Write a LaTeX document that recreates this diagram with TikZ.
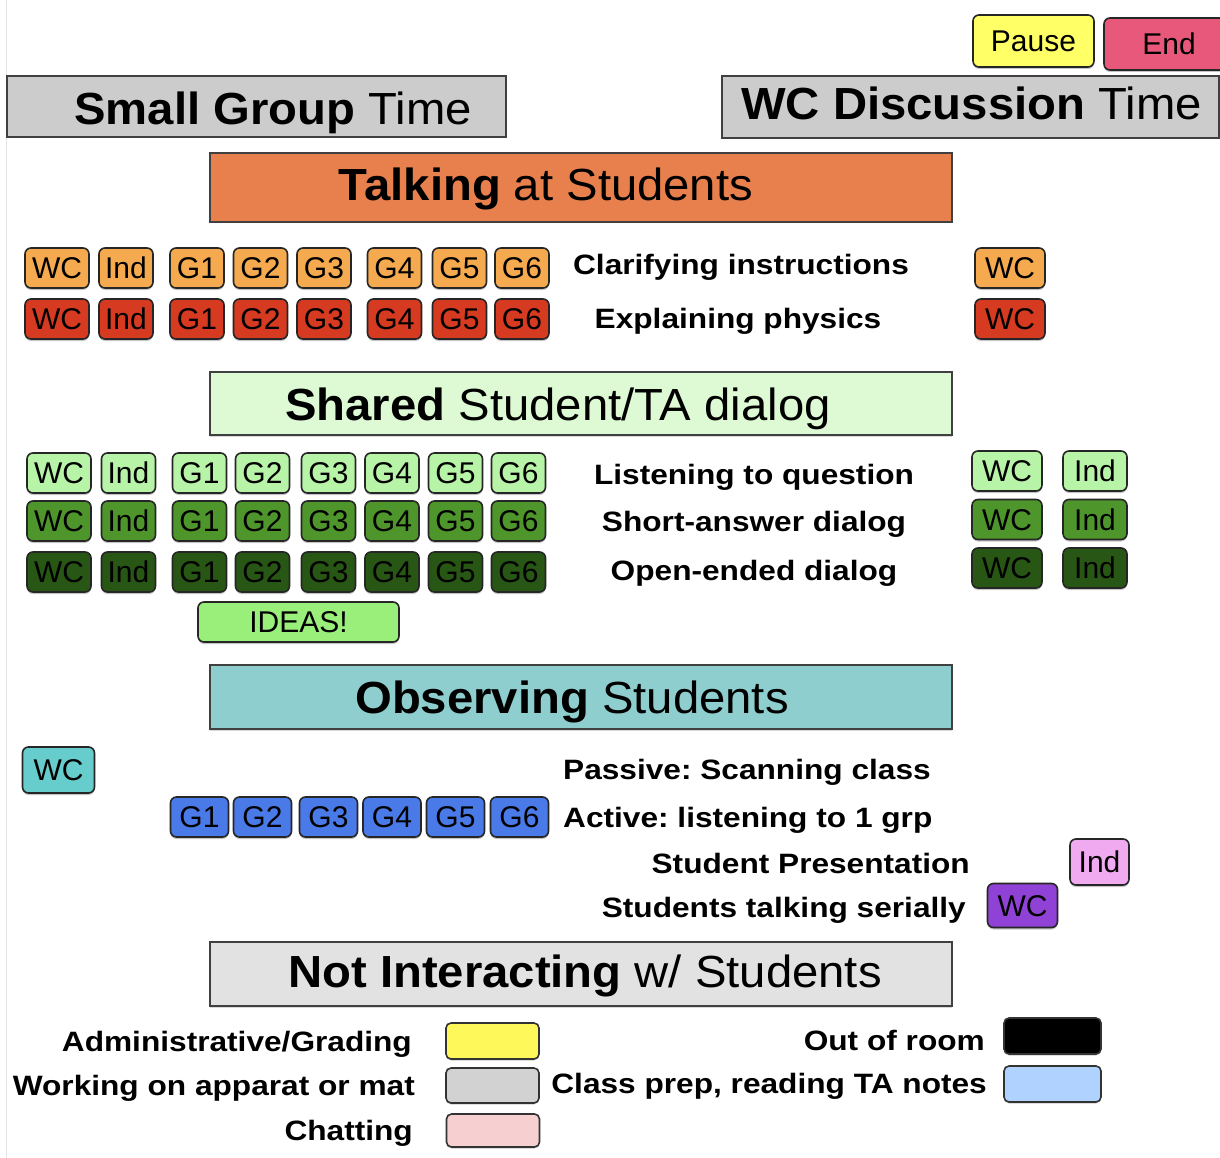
\documentclass[tikz,border=0pt]{standalone}
\usepackage{fontspec}
\setmainfont{Liberation Sans}
\newfontfamily\headfont[FakeStretch=1.05]{Liberation Sans}
\newfontfamily\rowfont[FakeStretch=1.13]{Liberation Sans}
\usetikzlibrary{shadows}
\frenchspacing

\definecolor{pausey}{RGB}{255,255,102}
\definecolor{endpink}{RGB}{232,88,122}
\definecolor{hdrgray}{RGB}{204,204,204}
\definecolor{talkorange}{RGB}{232,128,78}
\definecolor{clarorange}{RGB}{245,170,80}
\definecolor{explred}{RGB}{214,58,32}
\definecolor{sharedbg}{RGB}{221,250,212}
\definecolor{listengreen}{RGB}{184,244,168}
\definecolor{shortgreen}{RGB}{78,150,44}
\definecolor{opengreen}{RGB}{40,86,20}
\definecolor{ideasgreen}{RGB}{154,238,122}
\definecolor{observebg}{RGB}{142,206,206}
\definecolor{passiveteal}{RGB}{102,204,204}
\definecolor{activeblue}{RGB}{74,122,232}
\definecolor{presentpink}{RGB}{240,170,240}
\definecolor{serialpurple}{RGB}{145,66,214}
\definecolor{notbg}{RGB}{226,226,226}
\definecolor{adminyellow}{RGB}{255,248,90}
\definecolor{apparatgray}{RGB}{210,210,210}
\definecolor{chatpink}{RGB}{246,208,208}
\definecolor{prepblue}{RGB}{176,210,255}

\tikzset{
  band/.style={draw=black!75, line width=2pt, minimum width=742pt, inner sep=0pt,
    drop shadow={shadow xshift=0pt, shadow yshift=-1.5pt, opacity=0.3}},
  bandtext/.style={inner sep=0pt, text height=32pt, text depth=0pt, font=\headfont\fontsize{45}{45}\selectfont},
  tag/.style={draw=black!85, line width=1.6pt, rounded corners=6pt, minimum width=54pt, minimum height=40pt,
    inner sep=0pt, text height=21pt, text depth=0pt, font=\fontsize{30}{30}\selectfont,
    drop shadow={shadow xshift=0pt, shadow yshift=-2pt, opacity=0.45}},
  widetag/.style={tag, minimum width=64pt},
  rowtext/.style={inner sep=0pt, text height=20pt, text depth=0pt, font=\rowfont\bfseries\fontsize{28}{28}\selectfont},
  swatch/.style={draw=black!80, line width=1.6pt, rounded corners=5pt, minimum width=95pt, minimum height=35pt,
    inner sep=0pt, drop shadow={shadow xshift=0pt, shadow yshift=-1.5pt, opacity=0.4}}
}

\begin{document}
\begin{tikzpicture}[x=1pt, y=-1pt]
\useasboundingbox (0,0) rectangle (1220,1158);
\draw[gray!20, line width=1pt] (6,0) -- (6,1158);

% buttons
\node[tag, fill=pausey, minimum width=121pt, minimum height=52pt] (pause) at (1033.5,41) {Pause};
\node[tag, fill=endpink, minimum width=130pt, minimum height=52pt] (stop) at (1169,44) {End};

% time headers
\node[band, fill=hdrgray, minimum width=499pt, minimum height=61pt] (sgbox) at (256.5,106.5) {};
\node[bandtext] (sgtext) at (273,109) {{\bfseries Small Group} Time};
\node[band, fill=hdrgray, minimum width=497pt, minimum height=62pt] (wcbox) at (970.5,107) {};
\node[bandtext] (wctext) at (971.5,104) {{\bfseries WC Discussion} Time};

% talking at students
\node[band, fill=talkorange, minimum height=69pt] (talkbox) at (581,187.5) {};
\node[bandtext] (talktext) at (546,185) {{\bfseries Talking} at Students};

\node[widetag, fill=clarorange] (clWC) at (57,268) {WC};
\node[tag, fill=clarorange] (clInd) at (126,268) {Ind};
\node[tag, fill=clarorange] (clG1) at (197,268) {G1};
\node[tag, fill=clarorange] (clG2) at (260.5,268) {G2};
\node[tag, fill=clarorange] (clG3) at (324,268) {G3};
\node[tag, fill=clarorange] (clG4) at (394.5,268) {G4};
\node[tag, fill=clarorange] (clG5) at (459.5,268) {G5};
\node[tag, fill=clarorange] (clG6) at (522,268) {G6};
\node[rowtext] (cltext) at (741,265) {Clarifying instructions};
\node[widetag, fill=clarorange, minimum width=70pt] (clWCr) at (1010,268) {WC};

\node[widetag, fill=explred] (exWC) at (57,319) {WC};
\node[tag, fill=explred] (exInd) at (126,319) {Ind};
\node[tag, fill=explred] (exG1) at (197,319) {G1};
\node[tag, fill=explred] (exG2) at (260.5,319) {G2};
\node[tag, fill=explred] (exG3) at (324,319) {G3};
\node[tag, fill=explred] (exG4) at (394.5,319) {G4};
\node[tag, fill=explred] (exG5) at (459.5,319) {G5};
\node[tag, fill=explred] (exG6) at (522,319) {G6};
\node[rowtext] (extext) at (738,318) {Explaining physics};
\node[widetag, fill=explred, minimum width=70pt] (exWCr) at (1010,319) {WC};

% shared dialog
\node[band, fill=sharedbg, minimum height=63pt] (sharebox) at (581,403.5) {};
\node[bandtext] (sharetext) at (558,404) {{\bfseries Shared} Student/TA dialog};

\node[widetag, fill=listengreen] (liWC) at (59,473) {WC};
\node[tag, fill=listengreen] (liInd) at (128.5,473) {Ind};
\node[tag, fill=listengreen] (liG1) at (199.5,473) {G1};
\node[tag, fill=listengreen] (liG2) at (262.5,473) {G2};
\node[tag, fill=listengreen] (liG3) at (328.5,473) {G3};
\node[tag, fill=listengreen] (liG4) at (392,473) {G4};
\node[tag, fill=listengreen] (liG5) at (455.5,473) {G5};
\node[tag, fill=listengreen] (liG6) at (518.5,473) {G6};
\node[rowtext] (litext) at (754,474) {Listening to question};
\node[widetag, fill=listengreen, minimum width=70pt] (liWCr) at (1007,471) {WC};
\node[widetag, fill=listengreen] (liIndr) at (1095,471) {Ind};

\node[widetag, fill=shortgreen] (shWC) at (59,521) {WC};
\node[tag, fill=shortgreen] (shInd) at (128.5,521) {Ind};
\node[tag, fill=shortgreen] (shG1) at (199.5,521) {G1};
\node[tag, fill=shortgreen] (shG2) at (262.5,521) {G2};
\node[tag, fill=shortgreen] (shG3) at (328.5,521) {G3};
\node[tag, fill=shortgreen] (shG4) at (392,521) {G4};
\node[tag, fill=shortgreen] (shG5) at (455.5,521) {G5};
\node[tag, fill=shortgreen] (shG6) at (518.5,521) {G6};
\node[rowtext] (shtext) at (754,521) {Short-answer dialog};
\node[widetag, fill=shortgreen, minimum width=70pt] (shWCr) at (1007,519.5) {WC};
\node[widetag, fill=shortgreen] (shIndr) at (1095,519.5) {Ind};

\node[widetag, fill=opengreen] (opWC) at (59,572) {WC};
\node[tag, fill=opengreen] (opInd) at (128.5,572) {Ind};
\node[tag, fill=opengreen] (opG1) at (199.5,572) {G1};
\node[tag, fill=opengreen] (opG2) at (262.5,572) {G2};
\node[tag, fill=opengreen] (opG3) at (328.5,572) {G3};
\node[tag, fill=opengreen] (opG4) at (392,572) {G4};
\node[tag, fill=opengreen] (opG5) at (455.5,572) {G5};
\node[tag, fill=opengreen] (opG6) at (518.5,572) {G6};
\node[rowtext] (optext) at (754,570) {Open-ended dialog};
\node[widetag, fill=opengreen, minimum width=70pt] (opWCr) at (1007,568) {WC};
\node[widetag, fill=opengreen] (opIndr) at (1095,568) {Ind};

\node[tag, fill=ideasgreen, minimum width=201pt] (ideas) at (298.5,622) {IDEAS!};

% observing students
\node[band, fill=observebg, minimum height=64pt] (obsbox) at (581,697) {};
\node[bandtext] (obstext) at (572,697) {{\bfseries Observing} Students};

\node[widetag, fill=passiveteal, minimum width=72pt, minimum height=46pt] (paWC) at (58.5,770) {WC};
\node[rowtext, anchor=west] (patext) at (563,769) {Passive: Scanning class};

\node[tag, fill=activeblue, minimum width=58pt] (acG1) at (199.5,817) {G1};
\node[tag, fill=activeblue, minimum width=58pt] (acG2) at (262.5,817) {G2};
\node[tag, fill=activeblue, minimum width=58pt] (acG3) at (328.5,817) {G3};
\node[tag, fill=activeblue, minimum width=58pt] (acG4) at (392,817) {G4};
\node[tag, fill=activeblue, minimum width=58pt] (acG5) at (455.5,817) {G5};
\node[tag, fill=activeblue, minimum width=58pt] (acG6) at (519.5,817) {G6};
\node[rowtext, anchor=west] (actext) at (563,817) {Active: listening to 1 grp};

\node[rowtext, anchor=east] (prtext) at (970,863) {Student Presentation};
\node[tag, fill=presentpink, minimum width=59pt, minimum height=46pt] (prInd) at (1099.5,862) {Ind};
\node[rowtext, anchor=east] (setext) at (966,907) {Students talking serially};
\node[widetag, fill=serialpurple, minimum width=70pt, minimum height=44pt] (seWC) at (1022.5,905.5) {WC};

% not interacting
\node[band, fill=notbg, minimum height=64pt] (notbox) at (581,974) {};
\node[bandtext] (nottext) at (585,971) {{\bfseries Not Interacting} w/ Students};

\node[rowtext, anchor=east] (adtext) at (412,1041) {Administrative/Grading};
\node[swatch, fill=adminyellow, minimum width=93pt, minimum height=36pt] (adsw) at (492.5,1041) {};
\node[rowtext, anchor=east] (wotext) at (415,1085) {Working on apparat or mat};
\node[swatch, fill=apparatgray, minimum width=93pt] (wosw) at (492.5,1085.5) {};
\node[rowtext, anchor=east] (chtext) at (413,1130) {Chatting};
\node[swatch, fill=chatpink, minimum width=93pt, minimum height=33pt] (chsw) at (493,1130.5) {};
\node[rowtext, anchor=east] (outtext) at (985,1040) {Out of room};
\node[swatch, fill=black, minimum width=97pt, minimum height=36pt] (outsw) at (1052.5,1036) {};
\node[rowtext, anchor=east] (preptext) at (987,1083) {Class prep, reading TA notes};
\node[swatch, fill=prepblue, minimum width=97pt, minimum height=36pt] (prepsw) at (1052.5,1084) {};
\end{tikzpicture}
\end{document}
